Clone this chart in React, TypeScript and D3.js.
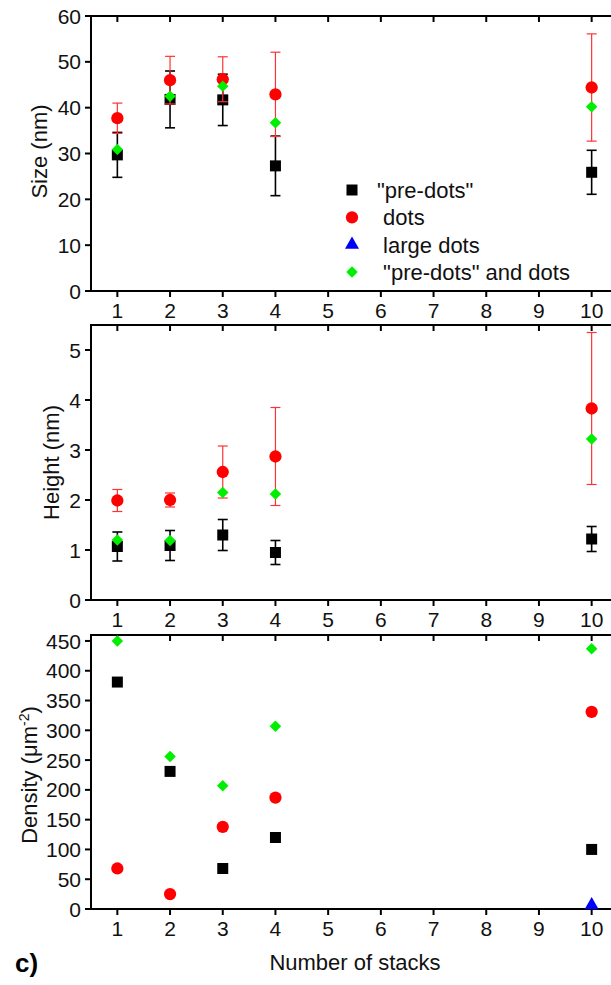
import React, { useEffect, useRef } from 'react';
import * as d3 from 'd3';

// stacks on the x axis
const stacks = [1, 2, 3, 4, 10];
const xTicks = [1, 2, 3, 4, 5, 6, 7, 8, 9, 10];

// Size (nm)
const sizePreDots = [29.7, 41.8, 41.7, 27.3, 25.9];
const sizePreDotsErr = [4.9, 6.2, 5.6, 6.5, 4.8];
const sizeDots = [37.7, 46.0, 46.2, 42.9, 44.4];
const sizeDotsErr = [3.3, 5.2, 4.9, 9.2, 11.7];
const sizeBoth = [30.9, 42.5, 44.7, 36.7, 40.2];
const sizeTicks = [0, 10, 20, 30, 40, 50, 60];

// Height (nm)
const heightPreDots = [1.07, 1.09, 1.30, 0.95, 1.22];
const heightPreDotsErr = [0.29, 0.30, 0.31, 0.24, 0.25];
const heightDots = [1.99, 2.00, 2.56, 2.87, 3.83];
const heightDotsErr = [0.22, 0.14, 0.52, 0.98, 1.52];
const heightBoth = [1.20, 1.19, 2.15, 2.12, 3.22];
const heightTicks = [0, 1, 2, 3, 4, 5];

// Density (um^-2)
const densityPreDots = [381, 231, 68, 120, 100];
const densityDots = [68, 25, 138, 187, 331];
const densityBoth = [450, 256, 207, 307, 437];
const densityLargeX = [10];
const densityLarge = [6.5];
const densityTicks = [0, 50, 100, 150, 200, 250, 300, 350, 400, 450];

const legendLabels = ['"pre-dots"', ' dots', ' large dots', ' "pre-dots" and dots'];

const FONT = '"Liberation Sans", Arial, sans-serif';

const App = () => {
  const svgRef = useRef(null);
  const width = 611;
  const height = 985;

  useEffect(() => {
    const svg = d3.select(svgRef.current);
    svg.selectAll("*").remove();

    const x = d3.scaleLinear().domain([0.5, 10.5]).range([91, 618]);

    const symSquare = d3.symbol().type(d3.symbolSquare).size(121)();
    const symCircle = d3.symbol().type(d3.symbolCircle).size(118)();
    const symTriangle = d3.symbol().type(d3.symbolTriangle).size(85)();
    const symDiamond = d3.symbol().type(d3.symbolSquare).size(66)();

    const markers = {
      pre: { path: symSquare, fill: "#000000", rot: 0 },
      dots: { path: symCircle, fill: "#ff0000", rot: 0 },
      large: { path: symTriangle, fill: "#0000ff", rot: 0 },
      both: { path: symDiamond, fill: "#00ee00", rot: 45 },
    };

    const drawPanel = (top, bottom, domain, ticks, title, series) => {
      const y = d3.scaleLinear().domain(domain).range([bottom, top]);
      const g = svg.append("g");

      // frame
      g.append("rect")
        .attr("x", x.range()[0])
        .attr("y", top)
        .attr("width", x.range()[1] - x.range()[0])
        .attr("height", bottom - top)
        .attr("fill", "none")
        .attr("stroke", "#000")
        .attr("stroke-width", 2);

      // x ticks: outward at bottom, inward at top
      xTicks.forEach(t => {
        g.append("line")
          .attr("x1", x(t)).attr("x2", x(t))
          .attr("y1", bottom).attr("y2", bottom + 6)
          .attr("stroke", "#000").attr("stroke-width", 2);
        g.append("line")
          .attr("x1", x(t)).attr("x2", x(t))
          .attr("y1", top).attr("y2", top + 6)
          .attr("stroke", "#000").attr("stroke-width", 2);
        g.append("text")
          .attr("x", x(t))
          .attr("y", bottom + 27)
          .attr("text-anchor", "middle")
          .style("font-family", FONT)
          .style("font-size", "21px")
          .style("fill", "#111")
          .text(t);
      });

      // y ticks
      ticks.forEach(t => {
        g.append("line")
          .attr("x1", x.range()[0] - 6).attr("x2", x.range()[0])
          .attr("y1", y(t)).attr("y2", y(t))
          .attr("stroke", "#000").attr("stroke-width", 2);
        g.append("text")
          .attr("x", x.range()[0] - 10)
          .attr("y", y(t))
          .attr("dy", "0.36em")
          .attr("text-anchor", "end")
          .style("font-family", FONT)
          .style("font-size", "21px")
          .style("fill", "#111")
          .text(t);
      });

      // axis title
      const tt = g.append("text")
        .attr("transform", `translate(${title.x},${(top + bottom) / 2 + title.shift}) rotate(-90)`)
        .attr("text-anchor", "middle")
        .style("font-family", FONT)
        .style("font-size", "22px")
        .style("fill", "#111");
      title.parts.forEach(p => {
        const s = tt.append("tspan").text(p.text);
        if (p.dy) s.attr("dy", p.dy);
        if (p.size) s.style("font-size", p.size);
      });

      // series
      series.forEach(s => {
        const m = markers[s.kind];
        const xs = s.xs || stacks;
        if (s.err) {
          const errColor = s.kind === "dots" ? "#ff3333" : "#000";
          const errW = s.kind === "dots" ? 1.2 : 1.6;
          s.values.forEach((v, i) => {
            const cx = x(xs[i]);
            const lo = y(v - s.err[i]);
            const hi = y(v + s.err[i]);
            g.append("line").attr("x1", cx).attr("x2", cx).attr("y1", lo).attr("y2", hi)
              .attr("stroke", errColor).attr("stroke-width", errW);
            [lo, hi].forEach(yy => {
              g.append("line").attr("x1", cx - 5).attr("x2", cx + 5).attr("y1", yy).attr("y2", yy)
                .attr("stroke", errColor).attr("stroke-width", errW);
            });
          });
        }
        s.values.forEach((v, i) => {
          g.append("path")
            .attr("d", m.path)
            .attr("transform", `translate(${x(xs[i])},${y(v)}) rotate(${m.rot})`)
            .attr("fill", m.fill);
        });
      });
    };

    drawPanel(16, 291, [0, 60], sizeTicks,
      { x: 47, shift: -2, parts: [{ text: "Size (nm)" }] },
      [
        { kind: "pre", values: sizePreDots, err: sizePreDotsErr },
        { kind: "dots", values: sizeDots, err: sizeDotsErr },
        { kind: "both", values: sizeBoth },
      ]);

    drawPanel(325, 600, [0, 5.5], heightTicks,
      { x: 59, shift: 0, parts: [{ text: "Height (nm)" }] },
      [
        { kind: "pre", values: heightPreDots, err: heightPreDotsErr },
        { kind: "dots", values: heightDots, err: heightDotsErr },
        { kind: "both", values: heightBoth },
      ]);

    drawPanel(635, 909, [0, 460], densityTicks,
      { x: 37, shift: 3, parts: [
        { text: "Density (\u03bcm" },
        { text: "-2", dy: "-8", size: "14px" },
        { text: ")", dy: "8" },
      ] },
      [
        { kind: "pre", values: densityPreDots },
        { kind: "dots", values: densityDots },
        { kind: "large", values: densityLarge, xs: densityLargeX },
        { kind: "both", values: densityBoth },
      ]);

    // legend
    const legend = svg.append("g");
    const kinds = ["pre", "dots", "large", "both"];
    kinds.forEach((k, i) => {
      const ly = 190 + i * 27.3;
      const m = markers[k];
      legend.append("path")
        .attr("d", m.path)
        .attr("transform", `translate(352,${ly}) rotate(${m.rot})`)
        .attr("fill", m.fill);
      legend.append("text")
        .attr("x", 377)
        .attr("y", ly)
        .attr("dy", "0.36em")
        .style("white-space", "pre")
        .style("font-family", FONT)
        .style("font-size", "22px")
        .style("fill", "#111")
        .text(legendLabels[i]);
    });

    // x axis title and panel label
    svg.append("text")
      .attr("x", 355)
      .attr("y", 970)
      .attr("text-anchor", "middle")
      .style("font-family", FONT)
      .style("font-size", "22px")
      .style("fill", "#111")
      .text("Number of stacks");

    svg.append("text")
      .attr("x", 15)
      .attr("y", 972)
      .style("font-family", FONT)
      .style("font-size", "26px")
      .style("font-weight", "bold")
      .style("fill", "#000")
      .text("c)");
  }, []);

  return (
    <svg
      ref={svgRef}
      width={width}
      height={height}
      style={{ position: 'absolute', left: 0, top: 0, background: '#fff' }}
    ></svg>
  );
};

export default App;
